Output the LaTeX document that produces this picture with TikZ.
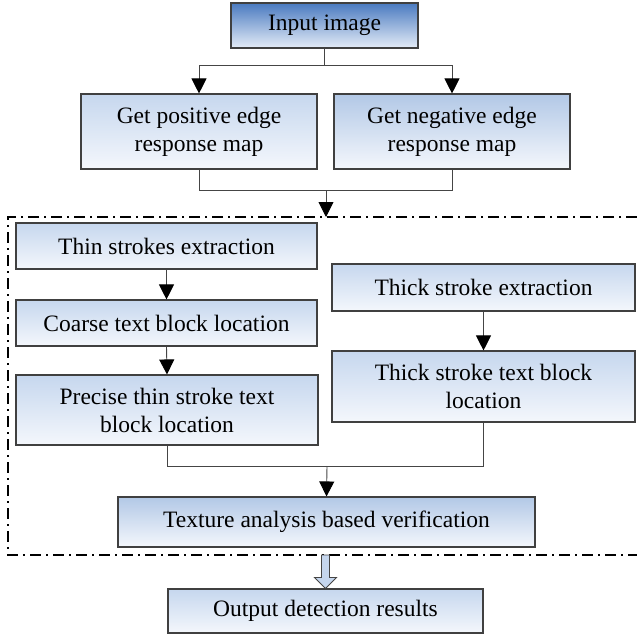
\documentclass[tikz,border=0pt]{standalone}
\usepackage{fontspec}
\setmainfont{Liberation Serif}
\usetikzlibrary{arrows.meta,calc}
\definecolor{edgegray}{HTML}{404040}
\definecolor{linegray}{HTML}{454545}
\definecolor{inTop}{HTML}{4A7AC0}
\definecolor{inBot}{HTML}{E4ECF7}
\definecolor{bxTop}{HTML}{C6D7EE}
\definecolor{bxBot}{HTML}{F4F7FC}
\definecolor{bxTopDark}{HTML}{B2C8E6}
\definecolor{arrowFill}{HTML}{C5D6EE}
\tikzset{
  box/.style={draw=edgegray, line width=1.1pt, top color=bxTop, bottom color=bxBot,
    align=center, inner sep=0pt, text=black,
    font=\fontsize{23.5}{28}\selectfont},
  inbox/.style={box, top color=inTop, bottom color=inBot},
  darkbox/.style={box, top color=bxTopDark, bottom color=bxBot},
  conn/.style={draw=linegray, line width=0.9pt},
  arr/.style={conn, -{Triangle[width=15pt,length=15pt,color=black]}},
  frame/.style={draw=black, line width=2.2pt, dash pattern=on 11pt off 5pt on 2pt off 5pt},
}
\begin{document}
\begin{tikzpicture}[x=1pt,y=-1pt]
\useasboundingbox (0,0) rectangle (637,634);
% nodes
\node[inbox, minimum width=187pt, minimum height=45pt] (in) at (324.5,25.5) {Input image};
\node[box, minimum width=236pt, minimum height=75pt] (pos) at (199,131.5) {Get positive edge\\response map};
\node[darkbox, minimum width=236pt, minimum height=75pt] (neg) at (452,131.5) {Get negative edge\\response map};
\node[box, minimum width=301pt, minimum height=46pt] (thin) at (166.5,246) {Thin strokes extraction};
\node[box, minimum width=301pt, minimum height=46pt] (coarse) at (166.5,323) {Coarse text block location};
\node[box, minimum width=302pt, minimum height=70pt] (precise) at (167,410) {Precise thin stroke text\\block location};
\node[box, minimum width=303pt, minimum height=47pt] (thick) at (483.5,287.5) {Thick stroke extraction};
\node[box, minimum width=303pt, minimum height=71pt] (thicktb) at (483.5,386.5) {Thick stroke text block\\location};
\node[darkbox, minimum width=417pt, minimum height=50pt] (tex) at (326.5,522) {Texture analysis based verification};
\node[box, minimum width=315pt, minimum height=44pt] (out) at (325.5,611) {Output detection results};
% coordinates
\coordinate (split) at (324.5,65);
\coordinate (merge) at (326,190);
\coordinate (ftop) at (326,217);
\coordinate (merge2) at (327,466);
\coordinate (fbot) at (325.5,555);
% frame
\draw[frame] (637,217) -- (8,217) -- (8,555) -- (637,555);
% connectors
\draw[conn] (in.south) -- (split);
\draw[arr] (split) -| (pos.north);
\draw[arr] (split) -| (neg.north);
\draw[conn] (pos.south) |- (merge);
\draw[conn] (neg.south) |- (merge);
\draw[arr] (merge) -- (ftop);
\draw[arr] (thin.south) -- (coarse.north);
\draw[arr] (coarse.south) -- (precise.north);
\draw[arr] (thick.south) -- (thicktb.north);
\draw[conn] (precise.south) |- (merge2);
\draw[conn] (thicktb.south) |- (merge2);
\draw[arr] (merge2) -- (tex.north);
% hollow arrow
\draw[draw=linegray, line width=0.9pt, fill=arrowFill]
  ($(fbot)+(-4,0)$) -- ($(fbot)+(4,0)$) -- ($(out.north)+(4,-11)$) -- ($(out.north)+(11,-11)$)
  -- (out.north) -- ($(out.north)+(-11,-11)$) -- ($(out.north)+(-4,-11)$) -- cycle;
\end{tikzpicture}
\end{document}
